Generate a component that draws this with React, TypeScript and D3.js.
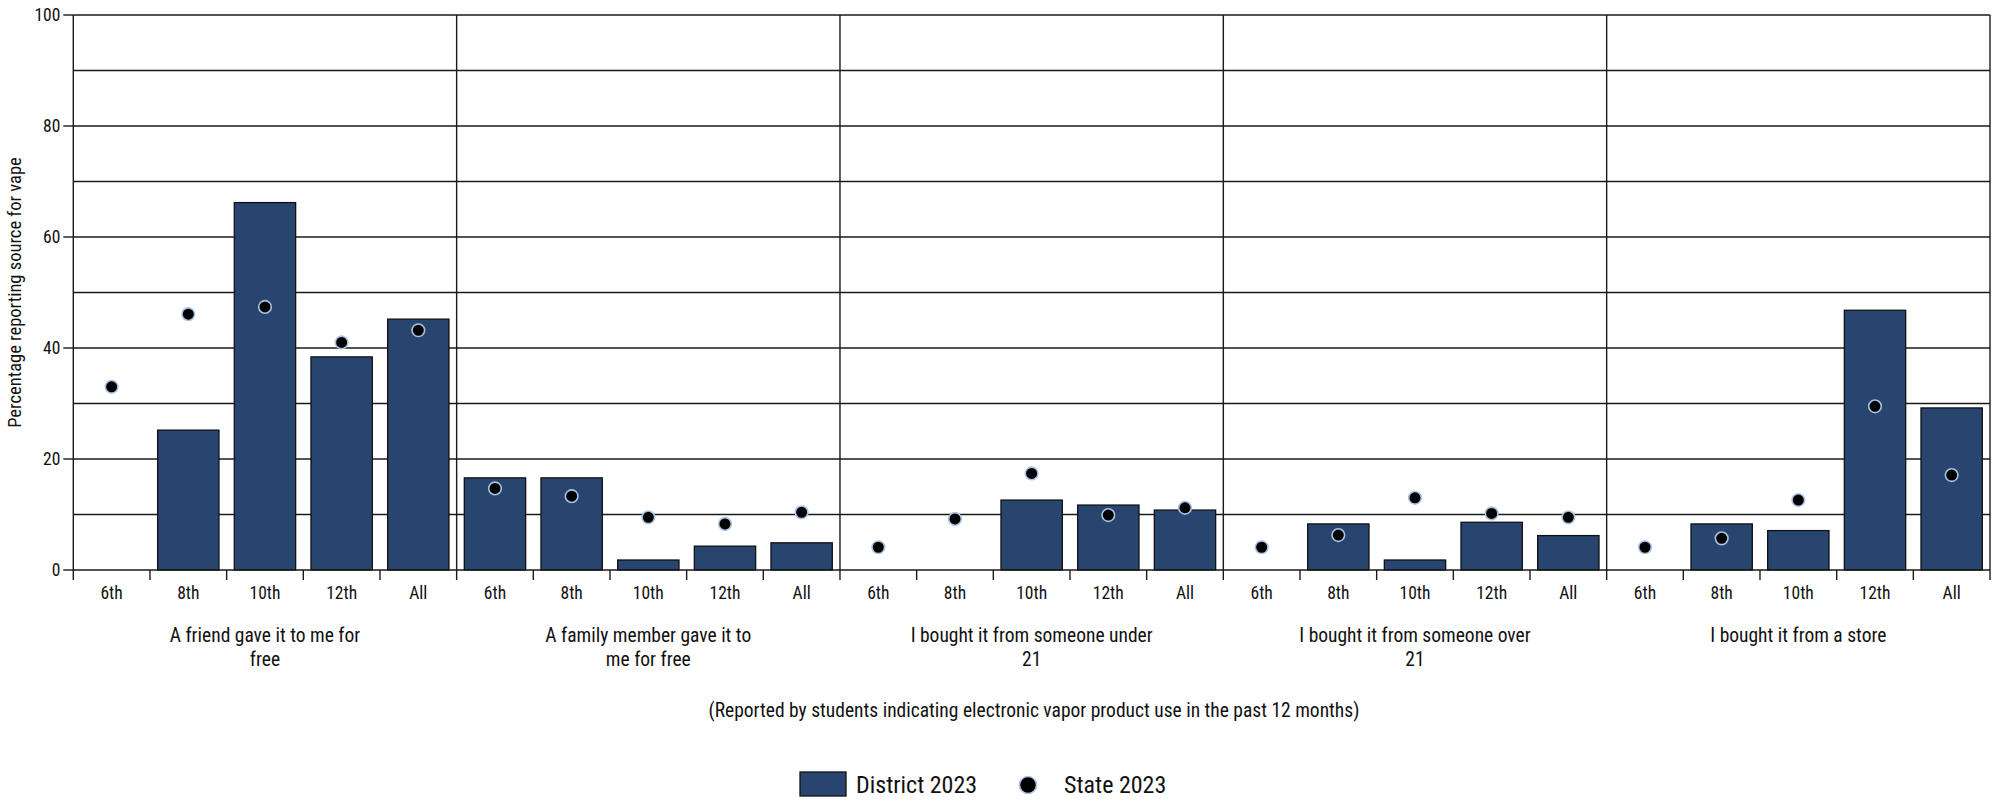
import React from "react";
import * as d3 from "d3";

const groups = [
  "A friend gave it to me for\nfree",
  "A family member gave it to\nme for free",
  "I bought it from someone under\n21",
  "I bought it from someone over\n21",
  "I bought it from a store",
];
const grades = ["6th", "8th", "10th", "12th", "All"];
const districtFriend = [null, 25.2, 66.2, 38.4, 45.2];
const districtFamily = [16.6, 16.6, 1.8, 4.3, 4.9];
const districtUnder21 = [null, null, 12.6, 11.7, 10.8];
const districtOver21 = [null, 8.3, 1.8, 8.6, 6.2];
const districtStore = [null, 8.3, 7.1, 46.8, 29.2];
const stateFriend = [33.0, 46.1, 47.4, 41.0, 43.2];
const stateFamily = [14.7, 13.3, 9.5, 8.3, 10.4];
const stateUnder21 = [4.1, 9.2, 17.4, 9.9, 11.2];
const stateOver21 = [4.1, 6.3, 13.0, 10.2, 9.5];
const stateStore = [4.1, 5.7, 12.6, 29.5, 17.1];
const yTicks = [0, 20, 40, 60, 80, 100];
const yGrid = [10, 20, 30, 40, 50, 60, 70, 80, 90, 100];
const yTitle = "Percentage reporting source for vape";
const note = "(Reported by students indicating electronic vapor product use in the past 12 months)";
const legendDistrict = "District 2023";
const legendState = "State 2023";

const districtSeries = [districtFriend, districtFamily, districtUnder21, districtOver21, districtStore];
const stateSeries = [stateFriend, stateFamily, stateUnder21, stateOver21, stateStore];

const FONT = "'Liberation Sans Narrow', 'Roboto Condensed', 'Arial Narrow', sans-serif";
const BAR = "#27456f";
const LINE = "#1a1a1a";

export default function App() {
  const W = 1999, H = 801;
  const left = 73.3, right = 1990, top = 15, bottom = 570;
  const x0 = d3.scaleBand<string>().domain(groups).range([left, right]).padding(0);
  const x1 = d3.scaleBand<string>().domain(grades).range([0, x0.bandwidth()]).paddingInner(0.2).paddingOuter(0.1);
  const xt = d3.scaleBand<string>().domain(grades).range([0, x0.bandwidth()]).padding(0);
  const y = d3.scaleLinear().domain([0, 100]).range([bottom, top]);

  const tickXs: number[] = [];
  groups.forEach((g) => grades.forEach((gr) => tickXs.push((x0(g) as number) + (xt(gr) as number))));
  tickXs.push(right);

  return (
    <svg width={W} height={H} style={{ position: "absolute", left: 0, top: 0, background: "#fff" }} fontFamily={FONT}>
      {yGrid.map((v) => (
        <line key={"g" + v} x1={left} x2={right} y1={y(v)} y2={y(v)} stroke={LINE} strokeWidth={1.4} />
      ))}
      {groups.map((g, i) =>
        i === 0 ? null : (
          <line key={"d" + i} x1={x0(g)} x2={x0(g)} y1={top} y2={bottom} stroke={LINE} strokeWidth={1.4} />
        )
      )}
      <line x1={right} x2={right} y1={top} y2={bottom} stroke={LINE} strokeWidth={1.4} />
      {groups.map((g, gi) =>
        grades.map((gr, i) => {
          const v = districtSeries[gi][i];
          if (v == null) return null;
          return (
            <rect
              key={"b" + gi + "-" + i}
              x={(x0(g) as number) + (x1(gr) as number)}
              y={y(v)}
              width={x1.bandwidth()}
              height={bottom - y(v)}
              fill={BAR}
              stroke="#111"
              strokeWidth={1.3}
            />
          );
        })
      )}
      {groups.map((g, gi) =>
        grades.map((gr, i) => {
          const v = stateSeries[gi][i];
          if (v == null) return null;
          return (
            <circle
              key={"c" + gi + "-" + i}
              cx={(x0(g) as number) + (xt(gr) as number) + xt.bandwidth() / 2}
              cy={y(v)}
              r={6.3}
              fill="#000"
              stroke="#a9c3e3"
              strokeWidth={1.6}
            />
          );
        })
      )}
      <line x1={left} x2={left} y1={top} y2={bottom} stroke={LINE} strokeWidth={1.4} />
      {yTicks.map((v) => (
        <g key={"yt" + v}>
          <line x1={left - 10} x2={left} y1={y(v)} y2={y(v)} stroke={LINE} strokeWidth={1.4} />
          <text x={left - 13} y={y(v)} dy="0.35em" textAnchor="end" fontSize={17.5} fill="#111">
            {v}
          </text>
        </g>
      ))}
      <text transform={`translate(21,${(top + bottom) / 2}) rotate(-90)`} textAnchor="middle" fontSize={18.5} fill="#111">
        {yTitle}
      </text>
      <line x1={left} x2={right} y1={bottom} y2={bottom} stroke={LINE} strokeWidth={1.4} />
      {tickXs.map((tx, i) => (
        <line key={"xt" + i} x1={tx} x2={tx} y1={bottom} y2={bottom + 10} stroke={LINE} strokeWidth={1.4} />
      ))}
      {groups.map((g, gi) =>
        grades.map((gr, i) => (
          <text
            key={"xl" + gi + "-" + i}
            x={(x0(g) as number) + (xt(gr) as number) + xt.bandwidth() / 2}
            y={599}
            textAnchor="middle"
            fontSize={17.5}
            fill="#111"
          >
            {gr}
          </text>
        ))
      )}
      {groups.map((g, gi) => (
        <text key={"gl" + gi} x={(x0(g) as number) + x0.bandwidth() / 2} y={642} textAnchor="middle" fontSize={19.5} fill="#111">
          {g.split("\n").map((ln, li) => (
            <tspan key={li} x={(x0(g) as number) + x0.bandwidth() / 2} dy={li === 0 ? 0 : 24}>
              {ln}
            </tspan>
          ))}
        </text>
      ))}
      <text x={1034} y={717} textAnchor="middle" fontSize={19.5} fill="#111">
        {note}
      </text>
      <rect x={800} y={772} width={46} height={24} fill={BAR} stroke="#111" strokeWidth={1.3} />
      <text x={856} y={793} fontSize={24} fill="#111">
        {legendDistrict}
      </text>
      <circle cx={1028} cy={785} r={8.5} fill="#000" stroke="#a9c3e3" strokeWidth={1.6} />
      <text x={1064} y={793} fontSize={24} fill="#111">
        {legendState}
      </text>
    </svg>
  );
}
